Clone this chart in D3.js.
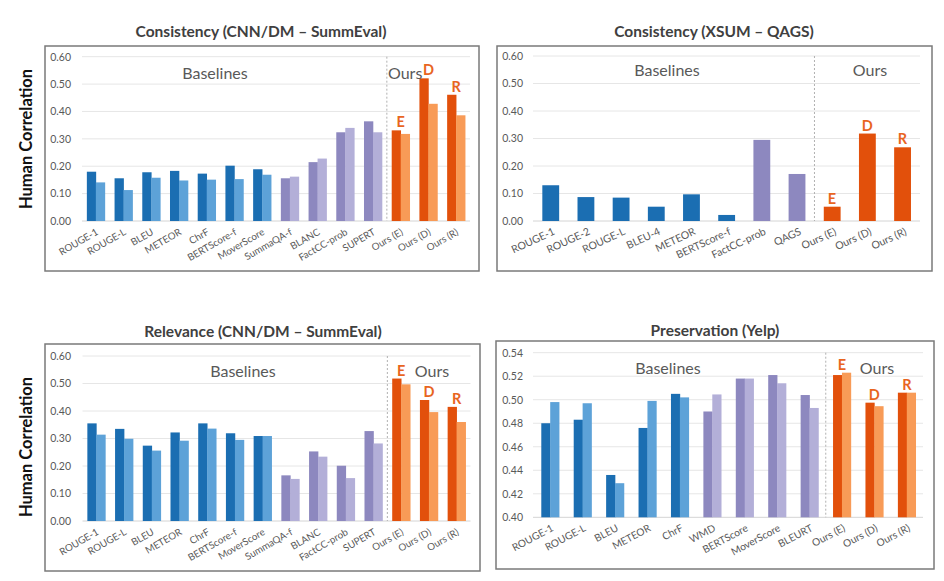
<!DOCTYPE html>
<html><head><meta charset="utf-8">
<script src="https://cdn.jsdelivr.net/npm/d3@7"></script>
<style>
html,body{margin:0;padding:0;background:#fff;}
svg text{font-family:Lato,"Noto Sans",sans-serif;}
</style></head>
<body><svg id="c" width="944" height="581"></svg>
<script>
// ---------- data ----------
const cnnCategories = ["ROUGE-1","ROUGE-L","BLEU","METEOR","ChrF","BERTScore-f","MoverScore","SummaQA-f","BLANC","FactCC-prob","SUPERT","Ours (E)","Ours (D)","Ours (R)"];
const cnnKinds = ["lex","lex","lex","lex","lex","lex","lex","model","model","model","model","ours","ours","ours"];
const consCnnA = [0.180,0.156,0.178,0.183,0.173,0.202,0.189,0.156,0.215,0.324,0.364,0.331,0.521,0.461];
const consCnnB = [0.141,0.113,0.158,0.148,0.151,0.153,0.169,0.162,0.228,0.340,0.324,0.318,0.428,0.386];

const xsumCategories = ["ROUGE-1","ROUGE-2","ROUGE-L","BLEU-4","METEOR","BERTScore-f","FactCC-prob","QAGS","Ours (E)","Ours (D)","Ours (R)"];
const xsumKinds = ["lex","lex","lex","lex","lex","lex","model","model","ours","ours","ours"];
const consXsum = [0.130,0.087,0.085,0.052,0.097,0.022,0.295,0.171,0.052,0.318,0.268];

const relCnnA = [0.355,0.335,0.274,0.322,0.355,0.319,0.309,0.166,0.253,0.201,0.327,0.518,0.440,0.415];
const relCnnB = [0.314,0.299,0.256,0.292,0.336,0.295,0.309,0.153,0.234,0.156,0.282,0.497,0.396,0.360];

const yelpCategories = ["ROUGE-1","ROUGE-L","BLEU","METEOR","ChrF","WMD","BERTScore","MoverScore","BLEURT","Ours (E)","Ours (D)","Ours (R)"];
const yelpKinds = ["lex","lex","lex","lex","lex","model","model","model","model","ours","ours","ours"];
const presYelpA = [0.480,0.483,0.436,0.476,0.505,0.490,0.518,0.521,0.504,0.521,0.4975,0.506];
const presYelpB = [0.498,0.497,0.429,0.499,0.502,0.5045,0.518,0.514,0.493,0.523,0.4945,0.506];

const oursLetters = ["E","D","R"];
const corrTicks = [0,0.1,0.2,0.3,0.4,0.5,0.6];
const yelpTicks = [0.40,0.42,0.44,0.46,0.48,0.50,0.52,0.54];
const titles = ["Consistency (CNN/DM \u2013 SummEval)","Consistency (XSUM \u2013 QAGS)","Relevance (CNN/DM \u2013 SummEval)","Preservation (Yelp)"];
const yAxisTitle = "Human Correlation";

// ---------- style ----------
const colors = {
  lex:["#1b6eb2","#5da2d8"],
  model:["#8d88bf","#b3afd8"],
  ours:["#e2500b","#f89b57"]
};
const letterColor = "#e8651f";
const svg = d3.select("#c");

function panel(cfg){
  const g = svg.append("g");
  g.append("rect").attr("x",cfg.box[0]).attr("y",cfg.box[1])
    .attr("width",cfg.box[2]-cfg.box[0]).attr("height",cfg.box[3]-cfg.box[1])
    .attr("fill","none").attr("stroke","#7a7a7a").attr("stroke-width",1.5);
  g.append("text").attr("x",cfg.titleX).attr("y",cfg.titleY).attr("text-anchor","middle")
    .attr("font-size",15.5).attr("font-weight","bold").attr("fill","#404040").text(cfg.title);

  const x = d3.scaleBand().domain(cfg.cats).range(cfg.xr).paddingInner(cfg.pad).paddingOuter(cfg.pad/2);
  const y = d3.scaleLinear().domain(cfg.dom).range(cfg.yr);

  // grid
  g.append("g").selectAll("line").data(cfg.ticks).join("line")
    .attr("x1",cfg.gx[0]).attr("x2",cfg.gx[1])
    .attr("y1",d=>y(d)).attr("y2",d=>y(d))
    .attr("stroke",(d,i)=>i===0?"#d4d4d4":"#e6e6e6").attr("stroke-width",1);
  // y axis labels
  const ya = d3.axisLeft(y).tickValues(cfg.ticks).tickFormat(d3.format(".2f")).tickSize(0).tickPadding(0);
  const yg = g.append("g").attr("transform",`translate(${cfg.tickX},0)`).call(ya);
  yg.select(".domain").remove();
  yg.selectAll("text").attr("font-size",10.5).attr("fill","#595959").attr("font-family","Lato,sans-serif");

  // divider
  const ds = cfg.cats.indexOf("Ours (E)");
  const dx = (x(cfg.cats[ds-1]) + x.bandwidth() + x(cfg.cats[ds]))/2;
  g.append("line").attr("x1",dx).attr("x2",dx).attr("y1",cfg.yr[1]).attr("y2",cfg.yr[0])
    .attr("stroke","#b0b0b0").attr("stroke-dasharray","2,2").attr("stroke-width",1);

  // bars
  const rows = cfg.cats.map((c,i)=>({c,i,kind:cfg.kinds[i],vals:cfg.series.map(s=>s[i])}));
  const ns = cfg.series.length;
  const bw = x.bandwidth()/ns;
  rows.forEach(r=>{
    r.vals.forEach((v,j)=>{
      g.append("rect").attr("x",x(r.c)+j*bw).attr("width",bw+0.3)
        .attr("y",y(v)).attr("height",y(cfg.dom[0])-y(v))
        .attr("fill",colors[r.kind][j]);
    });
  });
  // letters
  rows.filter(r=>r.kind==="ours").forEach((r,k)=>{
    const top = y(d3.max(r.vals));
    g.append("text").attr("x",x(r.c)+x.bandwidth()/2+(cfg.letterDx||0)).attr("y",top-3)
      .attr("text-anchor","middle").attr("font-size",14.5).attr("font-weight","bold")
      .attr("fill",letterColor).text(oursLetters[k]);
  });
  // section labels
  g.append("text").attr("x",cfg.baseX).attr("y",cfg.secY).attr("text-anchor","middle")
    .attr("font-size",16).attr("fill","#595959").text("Baselines");
  g.append("text").attr("x",cfg.oursX).attr("y",cfg.secY).attr("text-anchor",cfg.oursAnchor||"middle")
    .attr("font-size",16).attr("fill","#595959").text("Ours");

  // x labels
  g.append("g").selectAll("text").data(cfg.cats).join("text")
    .attr("transform",d=>`translate(${x(d)+x.bandwidth()/2+cfg.lblDx},${cfg.yr[0]+cfg.lblDy}) rotate(${cfg.angle})`)
    .attr("text-anchor","end").attr("font-size",cfg.lblSize).attr("fill","#595959")
    .text(d=>d);
}

panel({box:[45,46,479,271],title:titles[0],titleX:261,titleY:37,
  cats:cnnCategories,kinds:cnnKinds,series:[consCnnA,consCnnB],
  xr:[82,470],pad:0.35,dom:[0,0.6],yr:[221,56.7],ticks:corrTicks,gx:[82,470],tickX:71,
  baseX:215,oursX:388,oursAnchor:"start",secY:79,lblDx:3,lblDy:13,angle:-30,lblSize:9.8});
panel({box:[497,46,932,271],title:titles[1],titleX:714,titleY:37,
  cats:xsumCategories,kinds:xsumKinds,series:[consXsum],
  xr:[533,920],pad:0.53,dom:[0,0.6],yr:[221,56],ticks:corrTicks,gx:[533,920],tickX:523,
  baseX:667,oursX:870,secY:76,lblDx:5,lblDy:13,angle:-25,lblSize:10.5});
panel({box:[45,344,480,571],title:titles[2],titleX:263,titleY:337,
  cats:cnnCategories,kinds:cnnKinds,series:[relCnnA,relCnnB],
  xr:[82.5,470.5],pad:0.35,dom:[0,0.6],yr:[521,356],ticks:corrTicks,gx:[82.5,470.5],tickX:71,
  baseX:243,oursX:432,secY:377,lblDx:3,lblDy:13,angle:-30,lblSize:9.8});
panel({box:[496,341,934,569],title:titles[3],titleX:715,titleY:336,
  cats:yelpCategories,kinds:yelpKinds,series:[presYelpA,presYelpB],
  xr:[534,923],pad:0.45,dom:[0.40,0.54],yr:[517.3,352.7],ticks:yelpTicks,gx:[533,923],tickX:523,
  baseX:668,oursX:877,secY:374,lblDx:4,lblDy:13,angle:-28,lblSize:10.2});

// y-axis titles
[139,447].forEach(cy=>{
  svg.append("text").attr("transform",`translate(32,${cy}) rotate(-90)`)
    .attr("text-anchor","middle").attr("font-size",16.5).attr("font-weight","bold")
    .attr("fill","#111").text(yAxisTitle);
});
</script></body></html>
